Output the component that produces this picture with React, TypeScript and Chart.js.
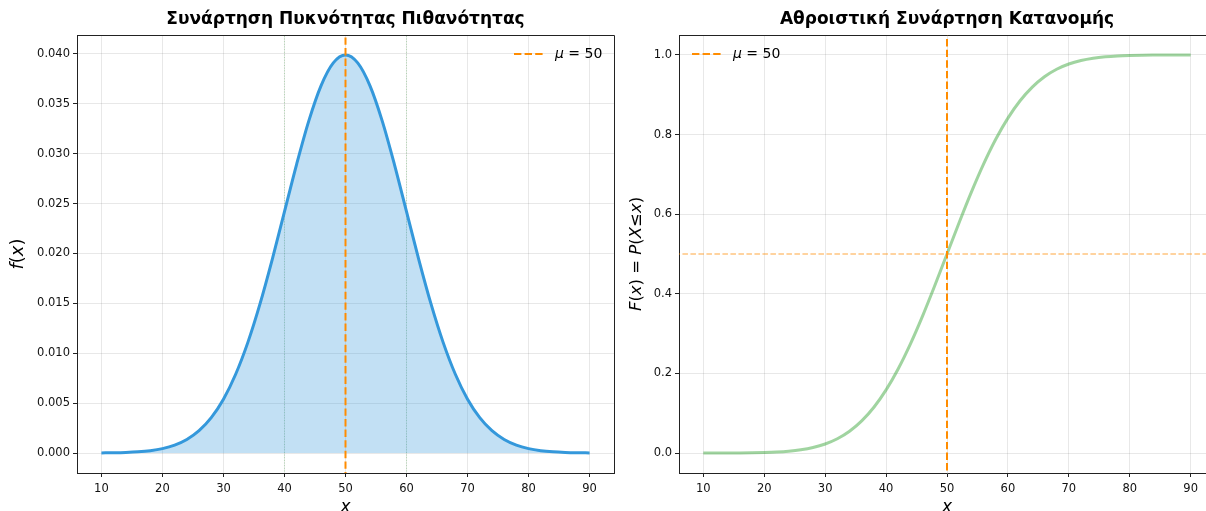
import React, { useEffect, useRef } from "react";
import { Chart, registerables } from "chart.js";

Chart.register(...registerables);

// ---------- data ----------
const X_VALUES = [
  10, 12, 14, 16, 18, 20, 22, 24, 26, 28, 30, 32, 34, 36, 38, 40, 42, 44, 46, 48, 50,
  52, 54, 56, 58, 60, 62, 64, 66, 68, 70, 72, 74, 76, 78, 80, 82, 84, 86, 88, 90,
];
const PDF_VALUES = [
  0.000013, 0.000029, 0.000061, 0.000123, 0.000238, 0.000443, 0.000792, 0.001358, 0.002239,
  0.003547, 0.005399, 0.007895, 0.011092, 0.014973, 0.019419, 0.024197, 0.028969, 0.033322,
  0.036827, 0.039104, 0.039894, 0.039104, 0.036827, 0.033322, 0.028969, 0.024197, 0.019419,
  0.014973, 0.011092, 0.007895, 0.005399, 0.003547, 0.002239, 0.001358, 0.000792, 0.000443,
  0.000238, 0.000123, 0.000061, 0.000029, 0.000013,
];
const CDF_VALUES = [
  0.00003, 0.00007, 0.00016, 0.00034, 0.00069, 0.00135, 0.00256, 0.00466, 0.0082, 0.0139,
  0.02275, 0.03593, 0.0548, 0.08076, 0.11507, 0.15866, 0.21186, 0.27425, 0.34458, 0.42074,
  0.5, 0.57926, 0.65542, 0.72575, 0.78814, 0.84134, 0.88493, 0.91924, 0.9452, 0.96407,
  0.97725, 0.9861, 0.9918, 0.99534, 0.99744, 0.99865, 0.99931, 0.99966, 0.99984, 0.99993,
  0.99997,
];
const MU = 50;
const SIGMA_LINES = [40, 60];
const X_TICKS = [10, 20, 30, 40, 50, 60, 70, 80, 90];
const PDF_TICKS = [0, 0.005, 0.01, 0.015, 0.02, 0.025, 0.03, 0.035, 0.04];
const CDF_TICKS = [0, 0.2, 0.4, 0.6, 0.8, 1.0];
const TITLE_PDF = "Συνάρτηση Πυκνότητας Πιθανότητας";
const TITLE_CDF = "Αθροιστική Συνάρτηση Κατανομής";

// ---------- helpers ----------
type Run = { t: string; i: boolean };
const FONT = '"DejaVu Sans"';

function runsWidth(ctx: CanvasRenderingContext2D, runs: Run[], size: number) {
  let w = 0;
  for (const r of runs) {
    ctx.font = `${r.i ? "italic " : ""}${size}px ${FONT}`;
    w += ctx.measureText(r.t).width;
  }
  return w;
}
function drawRuns(ctx: CanvasRenderingContext2D, runs: Run[], size: number, x: number, y: number) {
  let cx = x;
  ctx.textAlign = "left";
  ctx.textBaseline = "middle";
  for (const r of runs) {
    ctx.font = `${r.i ? "italic " : ""}${size}px ${FONT}`;
    ctx.fillText(r.t, cx, y);
    cx += ctx.measureText(r.t).width;
  }
}

const MU_RUNS: Run[] = [
  { t: "μ", i: true },
  { t: " = 50", i: false },
];

function makeTextPlugin(opts: {
  title: string;
  yRuns: Run[];
  yLabelX: number;
  yLabelSize: number;
  legendX: number;
}) {
  return {
    id: "texts",
    afterDraw(chart: any) {
      const ctx: CanvasRenderingContext2D = chart.ctx;
      const a = chart.chartArea;
      ctx.save();
      // top/right spines
      ctx.strokeStyle = "#222";
      ctx.lineWidth = 1;
      ctx.beginPath();
      ctx.moveTo(Math.round(a.left) + 0.5, Math.round(a.top) + 0.5);
      ctx.lineTo(Math.round(a.right) + 0.5, Math.round(a.top) + 0.5);
      ctx.lineTo(Math.round(a.right) + 0.5, Math.round(a.bottom) + 0.5);
      ctx.stroke();
      // title
      ctx.fillStyle = "#000";
      ctx.font = `bold 17px ${FONT}`;
      ctx.textAlign = "center";
      ctx.textBaseline = "middle";
      ctx.fillText(opts.title, (a.left + a.right) / 2, 20);
      // x label
      drawRuns(ctx, [{ t: "x", i: true }], 17, (a.left + a.right) / 2 - 5, 508);
      // y label
      ctx.save();
      ctx.translate(opts.yLabelX, (a.top + a.bottom) / 2);
      ctx.rotate(-Math.PI / 2);
      const w = runsWidth(ctx, opts.yRuns, opts.yLabelSize);
      drawRuns(ctx, opts.yRuns, opts.yLabelSize, -w / 2, 0);
      ctx.restore();
      // legend
      ctx.strokeStyle = "#ff8c00";
      ctx.lineWidth = 2;
      ctx.setLineDash([7.4, 3.2]);
      ctx.beginPath();
      ctx.moveTo(opts.legendX, 54);
      ctx.lineTo(opts.legendX + 29, 54);
      ctx.stroke();
      ctx.setLineDash([]);
      ctx.fillStyle = "#000";
      drawRuns(ctx, MU_RUNS, 14, opts.legendX + 41, 54);
      ctx.restore();
    },
  };
}

function xScale(height: number) {
  return {
    type: "linear",
    min: 6,
    max: 94,
    afterBuildTicks: (s: any) => {
      s.ticks = X_TICKS.map((v) => ({ value: v }));
    },
    afterFit: (s: any) => {
      s.height = height;
    },
    grid: { color: "rgba(0,0,0,0.09)", tickColor: "#222", tickLength: 4 },
    border: { color: "#222", width: 1 },
    ticks: {
      color: "#111",
      font: { family: "DejaVu Sans", size: 11.5 },
      padding: 5,
      maxRotation: 0,
      callback: (v: any) => String(v),
    },
  };
}

function yScale(min: number, max: number, ticks: number[], digits: number, width: number) {
  return {
    type: "linear",
    min,
    max,
    afterBuildTicks: (s: any) => {
      s.ticks = ticks.map((v) => ({ value: v }));
    },
    afterFit: (s: any) => {
      s.width = width;
    },
    grid: { color: "rgba(0,0,0,0.09)", tickColor: "#222", tickLength: 4 },
    border: { color: "#222", width: 1 },
    ticks: {
      color: "#111",
      font: { family: "DejaVu Sans", size: 11.5 },
      padding: 3,
      callback: (v: any) => Number(v).toFixed(digits),
    },
  };
}

function pts(xs: number[], ys: number[]) {
  return xs.map((x, i) => ({ x, y: ys[i] }));
}

function vline(x: number, color: string, width: number, dash: number[]) {
  return {
    data: [
      { x, y: -10 },
      { x, y: 10 },
    ],
    borderColor: color,
    borderWidth: width,
    borderDash: dash,
    pointRadius: 0,
    fill: false,
  };
}

function App() {
  const leftRef = useRef<HTMLCanvasElement>(null);
  const rightRef = useRef<HTMLCanvasElement>(null);

  useEffect(() => {
    const left = new Chart(leftRef.current as HTMLCanvasElement, {
      type: "line",
      data: {
        datasets: [
          vline(MU, "#ff8c00", 2, [7.4, 3.2]),
          {
            data: pts(X_VALUES, PDF_VALUES),
            borderColor: "#3498db",
            borderWidth: 3,
            backgroundColor: "rgba(52,152,219,0.3)",
            fill: "origin",
            pointRadius: 0,
            cubicInterpolationMode: "monotone",
          },
          ...SIGMA_LINES.map((s) => vline(s, "rgba(60,170,60,0.35)", 1, [1, 1.65])),
        ] as any,
      },
      options: {
        responsive: false,
        animation: false,
        devicePixelRatio: 1,
        layout: { padding: { top: 35, right: 6, left: 0, bottom: 0 } },
        plugins: { legend: { display: false }, tooltip: { enabled: false } },
        scales: {
          x: xScale(38) as any,
          y: yScale(-0.002, 0.0419, PDF_TICKS, 3, 77) as any,
        },
      },
      plugins: [
        makeTextPlugin({
          title: TITLE_PDF,
          yRuns: [
            { t: "f", i: true },
            { t: "(", i: false },
            { t: "x", i: true },
            { t: ")", i: false },
          ],
          yLabelX: 18,
          yLabelSize: 18,
          legendX: 514,
        }),
      ],
    });

    const right = new Chart(rightRef.current as HTMLCanvasElement, {
      type: "line",
      data: {
        datasets: [
          vline(MU, "#ff8c00", 2, [7.4, 3.2]),
          {
            data: [
              { x: 0, y: 0.5 },
              { x: 100, y: 0.5 },
            ],
            borderColor: "rgba(255,140,0,0.5)",
            borderWidth: 1.5,
            borderDash: [5.5, 2.5],
            pointRadius: 0,
            fill: false,
          },
          {
            data: pts(X_VALUES, CDF_VALUES),
            borderColor: "rgba(44,160,44,0.45)",
            borderWidth: 3,
            pointRadius: 0,
            fill: false,
            cubicInterpolationMode: "monotone",
          },
        ] as any,
      },
      options: {
        responsive: false,
        animation: false,
        devicePixelRatio: 1,
        layout: { padding: { top: 35, right: 25, left: 0, bottom: 0 } },
        plugins: { legend: { display: false }, tooltip: { enabled: false } },
        scales: {
          x: xScale(38) as any,
          y: yScale(-0.05, 1.05, CDF_TICKS, 1, 59) as any,
        },
      },
      plugins: [
        makeTextPlugin({
          title: TITLE_CDF,
          yRuns: [
            { t: "F", i: true },
            { t: "(", i: false },
            { t: "x", i: true },
            { t: ") = ", i: false },
            { t: "P", i: true },
            { t: "(", i: false },
            { t: "X", i: true },
            { t: "≤", i: false },
            { t: "x", i: true },
            { t: ")", i: false },
          ],
          yLabelX: 17,
          yLabelSize: 16.5,
          legendX: 72,
        }),
      ],
    });

    return () => {
      left.destroy();
      right.destroy();
    };
  }, []);

  return (
    <div
      style={{
        position: "fixed",
        left: 0,
        top: 0,
        width: 1206,
        height: 511,
        overflow: "hidden",
        background: "#fff",
      }}
    >
      <canvas
        ref={leftRef}
        width={620}
        height={511}
        style={{ position: "absolute", left: 0, top: 0, width: 620, height: 511 }}
      />
      <canvas
        ref={rightRef}
        width={620}
        height={511}
        style={{ position: "absolute", left: 620, top: 0, width: 620, height: 511 }}
      />
    </div>
  );
}

export default App;
